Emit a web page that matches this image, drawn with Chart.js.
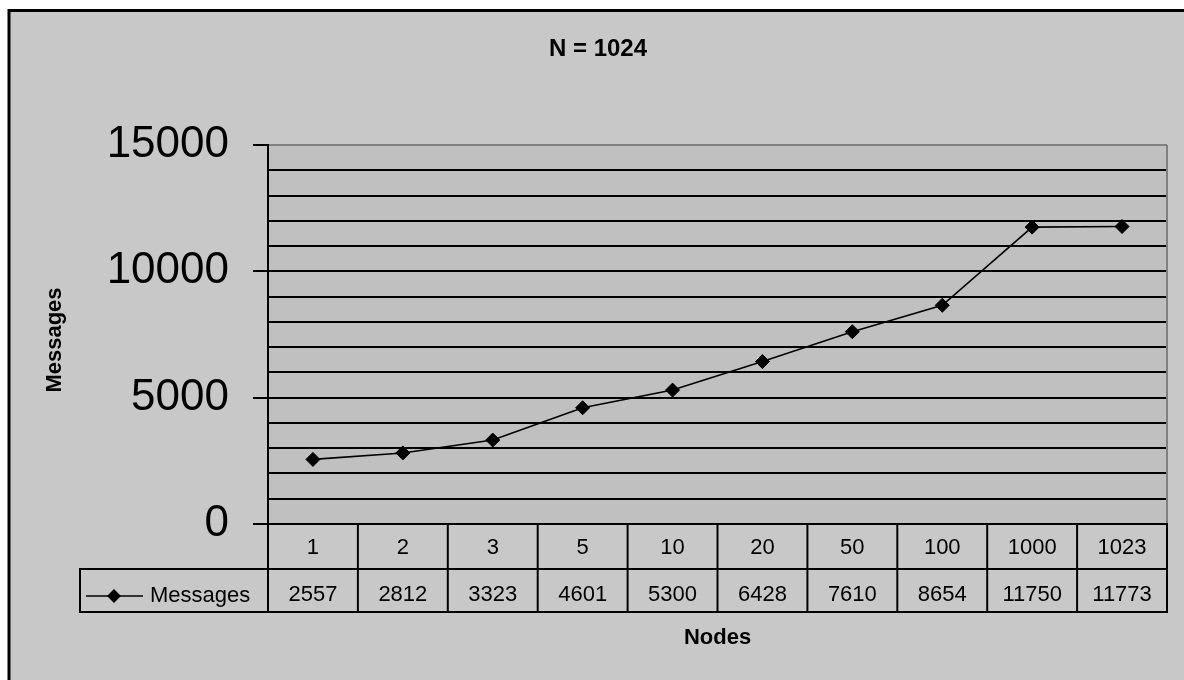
<!DOCTYPE html>
<html><head><meta charset="utf-8">
<script src="https://cdn.jsdelivr.net/npm/chart.js@4"></script>
<style>html,body{margin:0;padding:0;background:#fff}canvas{display:block}</style>
</head><body>
<canvas id="c" width="1184" height="680"></canvas>
<script>
const chartTitle = 'N = 1024';
const categories = ['1','2','3','5','10','20','50','100','1000','1023'];
const seriesName = 'Messages';
const messages = [2557, 2812, 3323, 4601, 5300, 6428, 7610, 8654, 11750, 11773];
const yTickLabels = [0, 5000, 10000, 15000];
const yMin = 0, yMax = 15000, gridStep = 1000;
const xTitle = 'Nodes';
const yTitle = 'Messages';
const FONT = '"Liberation Sans", Arial, Helvetica, sans-serif';

const framePlugin = {
  id: 'frame',
  beforeDraw(chart) {
    const ctx = chart.ctx, a = chart.chartArea;
    ctx.save();
    ctx.fillStyle = '#ffffff';
    ctx.fillRect(0, 0, chart.width, chart.height);
    ctx.fillStyle = '#c8c8c8';
    ctx.fillRect(9, 10.5, chart.width, chart.height);
    ctx.strokeStyle = '#000';
    ctx.lineWidth = 3;
    ctx.strokeRect(9, 10.5, chart.width + 20, chart.height + 20);
    ctx.fillStyle = '#c0c0c0';
    ctx.fillRect(a.left, a.top, a.right - a.left, a.bottom - a.top);
    ctx.restore();
  },
  afterDraw(chart) {
    const ctx = chart.ctx, a = chart.chartArea, xs = chart.scales.x;
    const n = categories.length, w = (a.right - a.left) / n;
    const r0 = a.bottom, r1 = a.bottom + 45, r2 = a.bottom + 88, legL = 80;
    const line = (x1, y1, x2, y2) => { ctx.beginPath(); ctx.moveTo(x1, y1); ctx.lineTo(x2, y2); ctx.stroke(); };
    ctx.save();
    ctx.strokeStyle = '#808080'; ctx.lineWidth = 2;
    line(a.right, a.top, a.right, a.bottom);
    ctx.strokeStyle = '#000'; ctx.lineWidth = 2;
    line(a.left, r0, a.right + 1, r0);
    line(legL - 1, r1, a.right + 1, r1);
    line(legL - 1, r2, a.right + 1, r2);
    for (let i = 0; i <= n; i++) {
      const x = a.left + i * w;
      line(x, r0, x, r2);
    }
    line(legL, r1, legL, r2);
    ctx.fillStyle = '#000';
    ctx.font = '22px ' + FONT;
    ctx.textAlign = 'center';
    ctx.textBaseline = 'alphabetic';
    for (let i = 0; i < n; i++) {
      const cx = xs.getPixelForValue(i);
      ctx.fillText(categories[i], cx, r0 + 30);
      ctx.fillText(String(messages[i]), cx, r1 + 32);
    }
    const ly = r1 + 27;
    ctx.lineWidth = 1.5;
    line(86, ly, 143, ly);
    ctx.beginPath();
    ctx.moveTo(114, ly - 7); ctx.lineTo(121, ly); ctx.lineTo(114, ly + 7); ctx.lineTo(107, ly);
    ctx.closePath(); ctx.fill();
    ctx.textAlign = 'left';
    ctx.fillText(seriesName, 150, r1 + 33);
    ctx.textAlign = 'center';
    ctx.font = 'bold 24px ' + FONT;
    ctx.fillText(chartTitle, 598, 56);
    ctx.font = 'bold 22px ' + FONT;
    ctx.fillText(xTitle, (a.left + a.right) / 2, 644);
    ctx.save();
    ctx.translate(61, 340);
    ctx.rotate(-Math.PI / 2);
    ctx.fillText(yTitle, 0, 0);
    ctx.restore();
    ctx.restore();
  }
};

new Chart(document.getElementById('c'), {
  type: 'line',
  data: {
    labels: categories,
    datasets: [{
      label: seriesName,
      data: messages,
      borderColor: '#000',
      borderWidth: 1.6,
      pointStyle: 'rectRot',
      pointRadius: 7,
      pointHoverRadius: 7,
      pointBackgroundColor: '#000',
      pointBorderColor: '#000',
      pointBorderWidth: 1,
      tension: 0,
      clip: false
    }]
  },
  options: {
    responsive: false,
    devicePixelRatio: 1,
    animation: false,
    layout: { padding: { left: 0, top: 145, right: 17, bottom: 156 } },
    plugins: { legend: { display: false }, tooltip: { enabled: false }, title: { display: false } },
    scales: {
      x: { type: 'category', offset: true, display: false, grid: { offset: true } },
      y: {
        min: yMin, max: yMax,
        ticks: {
          stepSize: gridStep,
          autoSkip: false,
          padding: 24,
          color: '#000',
          font: { family: FONT, size: 44 },
          callback: v => yTickLabels.includes(v) ? String(v) : ''
        },
        grid: {
          color: c => (c.tick && c.tick.value === yMax) ? '#808080' : '#000',
          lineWidth: 2,
          drawTicks: true,
          tickLength: 15,
          tickWidth: 2,
          tickColor: c => (c.tick && yTickLabels.includes(c.tick.value)) ? '#000' : 'rgba(0,0,0,0)'
        },
        border: { color: '#000', width: 2 },
        afterFit(s) { s.width = 268; }
      }
    }
  },
  plugins: [framePlugin]
});
</script>
</body></html>
